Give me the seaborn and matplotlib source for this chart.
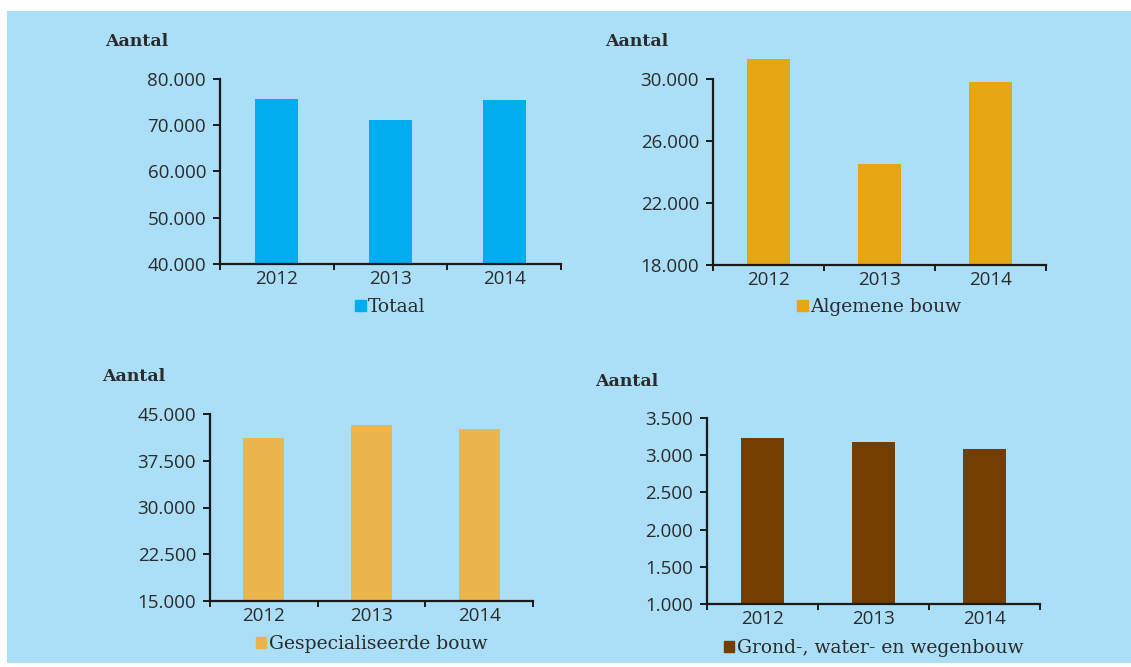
import matplotlib
matplotlib.use("Agg")
import matplotlib.pyplot as plt
import matplotlib.patches as mpatches
from matplotlib.ticker import FuncFormatter, FixedLocator
import seaborn as sns
import pandas as pd

years = ["2012", "2013", "2014"]
totaal = [75760, 71180, 75550]
algemene = [31290, 24500, 29830]
gespecialiseerd = [41200, 43250, 42540]
grond = [3232, 3183, 3089]

labels = ["Totaal", "Algemene bouw", "Gespecialiseerde bouw", "Grond-, water- en wegenbouw"]
colors = ["#00AEEF", "#E5A614", "#EBB54B", "#743E00"]
series = [totaal, algemene, gespecialiseerd, grond]
ylims = [(40000, 80000), (18000, 30000), (15000, 45000), (1000, 3500)]
yticks = [[40000, 50000, 60000, 70000, 80000],
          [18000, 22000, 26000, 30000],
          [15000, 22500, 30000, 37500, 45000],
          [1000, 1500, 2000, 2500, 3000, 3500]]

sns.set_theme(style="white")
bg = "#AADFF7"
txt = "#2b2b2b"

fig = plt.figure(figsize=(11.31, 6.67), dpi=100)
fig.patch.set_facecolor("white")
fig.patches.append(mpatches.Rectangle((7 / 1131, 1 - 663 / 667), 1 - 7 / 1131, (663 - 11) / 667,
                                      transform=fig.transFigure, facecolor=bg, edgecolor="none", zorder=-10))

# axes rects in pixels: left, right, top, bottom
rects = [(220, 561, 79, 264), (713, 1046, 79, 265), (210, 533, 414, 601), (707, 1040, 418, 604)]
aantal_pos = [(105, 41), (605, 41), (102, 377), (595, 381)]
legend_y = [307, 307, 644, 648]

def nl_fmt(v, pos):
    return f"{v:,.0f}".replace(",", ".")

for i in range(4):
    l, r, t, b = rects[i]
    ax = fig.add_axes([l / 1131, 1 - b / 667, (r - l) / 1131, (b - t) / 667])
    ax.set_facecolor("none")
    df = pd.DataFrame({"jaar": years, "aantal": series[i]})
    sns.barplot(data=df, x="jaar", y="aantal", color=colors[i], width=0.38,
                saturation=1, ax=ax, linewidth=0, edgecolor="none")
    ymin, ymax = ylims[i]
    ax.set_ylim(ymin, ymax)
    ax.set_xlim(-0.5, 2.5)
    # bars rise from the axis floor and may overshoot the top (as in the reference)
    for p in ax.patches:
        top = p.get_y() + p.get_height()
        p.set_y(ymin)
        p.set_height(top - ymin)
        p.set_clip_on(False)
    ax.yaxis.set_major_locator(FixedLocator(yticks[i]))
    ax.yaxis.set_major_formatter(FuncFormatter(nl_fmt))
    ax.set_xlabel("")
    ax.set_ylabel("")
    for s in ["top", "right"]:
        ax.spines[s].set_visible(False)
    for s in ["left", "bottom"]:
        ax.spines[s].set_color("#1a1a1a")
        ax.spines[s].set_linewidth(1.6)
        ax.spines[s].set_zorder(5)
    ax.tick_params(axis="y", which="major", direction="out", length=5, width=1.4,
                   color="#1a1a1a", labelsize=13.5, labelcolor=txt, pad=5, left=True)
    ax.tick_params(axis="x", which="major", length=0, labelsize=13.5, labelcolor=txt, pad=4)
    ax.set_xticks([-0.5, 0.5, 1.5, 2.5], minor=True)
    ax.tick_params(axis="x", which="minor", direction="out", length=4, width=1.4,
                   color="#1a1a1a", bottom=True)
    for lab in ax.get_xticklabels() + ax.get_yticklabels():
        lab.set_fontfamily("Open Sans")
    leg = fig.legend(handles=[mpatches.Patch(color=colors[i], label=labels[i])],
                     loc="center", bbox_to_anchor=((l + r) / 2 / 1131, 1 - legend_y[i] / 667),
                     frameon=False, handlelength=0.55, handleheight=0.55, handletextpad=0.15,
                     prop={"family": "DejaVu Serif", "size": 13.5})
    for tt in leg.get_texts():
        tt.set_color(txt)
    x0, y0 = aantal_pos[i]
    fig.text(x0 / 1131, 1 - y0 / 667, "Aantal", ha="left", va="center",
             fontsize=12.5, fontweight="bold", family="DejaVu Serif", color=txt)

fig.savefig("out.png", dpi=100, facecolor=fig.get_facecolor())
